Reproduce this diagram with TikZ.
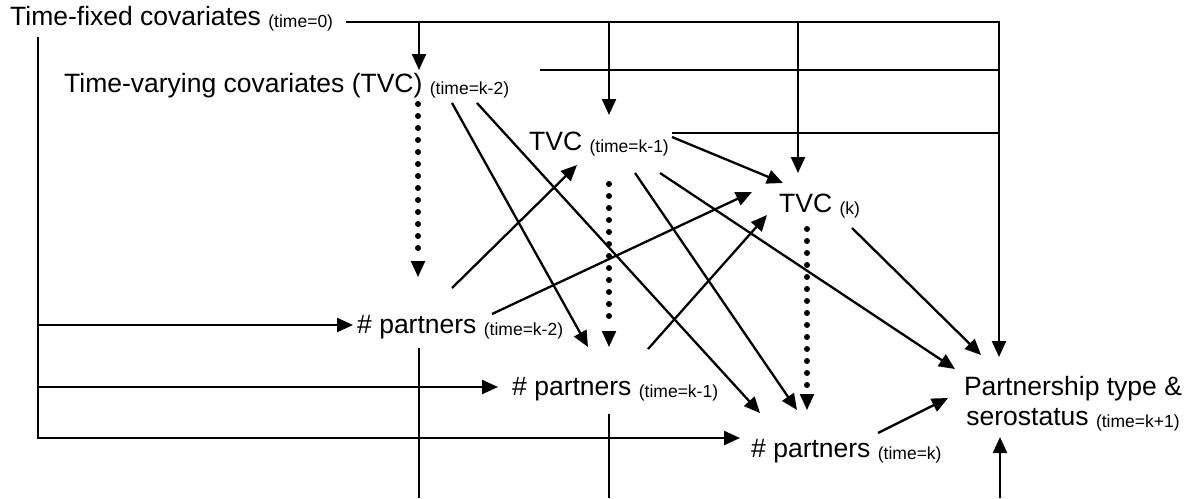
\documentclass[tikz,border=0pt]{standalone}
\usepackage{fontspec}
\setmainfont{Liberation Sans}
\usetikzlibrary{arrows.meta,calc}
% lowered, smaller time index after each label
\newcommand{\tidx}[1]{\raisebox{-2.5pt}{\fontsize{17.5}{20}\selectfont #1}}
\begin{document}
\begin{tikzpicture}[x=1pt,y=-1pt,
  lbl/.style={anchor=base west, inner sep=0pt, font=\fontsize{26.5}{30}\selectfont},
  conn/.style={line width=2.3pt},
  arr/.style={conn, -{Triangle[length=16pt,width=14pt]}},
  dotline/.style={line width=6pt, line cap=round, dash pattern=on 0pt off 12pt}]
\useasboundingbox (0,0) rectangle (1190,498);

% ---------- labels ----------
\node[lbl] (tf)   at (10,25)   {Time-fixed covariates \tidx{(time=0)}};
\node[lbl] (tvc2) at (64,92)   {Time-varying covariates (TVC) \tidx{(time=k-2)}};
\node[lbl] (tvc1) at (529,150) {TVC \tidx{(time=k-1)}};
\node[lbl] (tvck) at (779,212) {TVC \tidx{(k)}};
\node[lbl] (p2)   at (357,333) {\# partners \tidx{(time=k-2)}};
\node[lbl] (p1)   at (512,395) {\# partners \tidx{(time=k-1)}};
\node[lbl] (p0)   at (751,457) {\# partners \tidx{(time=k)}};
\node[lbl, anchor=base] (pt) at (1073,395)
  {\begin{tabular}[t]{@{}c@{}}Partnership type \&\\serostatus \tidx{(time=k+1)}\end{tabular}};

% ---------- connector end points ----------
\coordinate (tf-out) at (346,22);
\coordinate (bus-r)  at (999,22);
\coordinate (bus-a)  at (419,22);
\coordinate (bus-b)  at (609,22);
\coordinate (bus-c)  at (798,22);
\coordinate (tvc2-in) at (419,70);
\coordinate (tvc1-in) at (609,115);
\coordinate (tvck-in) at (798,173);
\coordinate (pt-top)  at (999,357);
\coordinate (tvc2-out) at (540,70);
\coordinate (tvc2-bus) at (999,70);
\coordinate (tvc1-out) at (672,133);
\coordinate (tvc1-bus) at (999,133);

\coordinate (lv-top) at (38,37);
\coordinate (lv-2) at (38,325);
\coordinate (lv-1) at (38,387);
\coordinate (p2-in) at (353,325);
\coordinate (p1-in) at (498,387);
\coordinate (p0-in) at (740,438);

\coordinate (p2-down) at (419,348);
\coordinate (p2-bot)  at (419,498);
\coordinate (p1-down) at (609,414);
\coordinate (p1-bot)  at (609,498);
\coordinate (pt-bot)  at (1000,498);
\coordinate (pt-low)  at (1000,437);

\coordinate (d2-a) at (418,104); \coordinate (d2-b) at (418,258); \coordinate (d2-t) at (418,277);
\coordinate (d1-a) at (609,184); \coordinate (d1-b) at (609,326); \coordinate (d1-t) at (609,347);
\coordinate (d0-a) at (807,229); \coordinate (d0-b) at (807,390); \coordinate (d0-t) at (807,410);

\coordinate (tvc2-s1) at (452,103); \coordinate (p1-n1) at (588,347);
\coordinate (tvc2-s2) at (477,103); \coordinate (p0-n1) at (760,413);
\coordinate (tvc1-e)  at (672,137); \coordinate (tvck-w) at (783,183);
\coordinate (tvc1-s1) at (635,173); \coordinate (p0-n2) at (797,410);
\coordinate (tvc1-s2) at (660,173); \coordinate (pt-nw) at (955,369);
\coordinate (tvck-se) at (852,228); \coordinate (pt-n)  at (981,355);
\coordinate (p2-ne1)  at (452,288); \coordinate (tvc1-sw) at (577,165);
\coordinate (p2-ne2)  at (492,314); \coordinate (tvck-sw1) at (752,192);
\coordinate (p1-ne)   at (648,349); \coordinate (tvck-sw2) at (767,215);
\coordinate (p0-ne)   at (878,433); \coordinate (pt-w)  at (948,398);

% ---------- time-fixed covariates bus ----------
\draw[arr] (tf-out) -- (bus-r) -- (pt-top);
\draw[arr] (bus-a) -- (tvc2-in);
\draw[arr] (bus-b) -- (tvc1-in);
\draw[arr] (bus-c) -- (tvck-in);
\draw[conn] (tvc2-out) -- (tvc2-bus);
\draw[conn] (tvc1-out) -- (tvc1-bus);

\draw[conn] (lv-top) |- (lv-1);
\draw[arr] (lv-top) |- (p0-in);
\draw[arr] (lv-2) -- (p2-in);
\draw[arr] (lv-1) -- (p1-in);

% ---------- lines leaving the bottom edge ----------
\draw[conn] (p2-down) -- (p2-bot);
\draw[conn] (p1-down) -- (p1-bot);
\draw[arr] (pt-bot) -- (pt-low);

% ---------- carried-over TVC (dotted) ----------
\draw[dotline] (d2-a) -- (d2-b);
\draw[arr] ($(d2-t)+(0,-16)$) -- (d2-t);
\draw[dotline] (d1-a) -- (d1-b);
\draw[arr] ($(d1-t)+(0,-16)$) -- (d1-t);
\draw[dotline] (d0-a) -- (d0-b);
\draw[arr] ($(d0-t)+(0,-16)$) -- (d0-t);

% ---------- cross-time effects ----------
\draw[arr] (tvc2-s1) -- (p1-n1);
\draw[arr] (tvc2-s2) -- (p0-n1);
\draw[arr] (tvc1-e)  -- (tvck-w);
\draw[arr] (tvc1-s1) -- (p0-n2);
\draw[arr] (tvc1-s2) -- (pt-nw);
\draw[arr] (tvck-se) -- (pt-n);
\draw[arr] (p2-ne1)  -- (tvc1-sw);
\draw[arr] (p2-ne2)  -- (tvck-sw1);
\draw[arr] (p1-ne)   -- (tvck-sw2);
\draw[arr] (p0-ne)   -- (pt-w);
\end{tikzpicture}
\end{document}
